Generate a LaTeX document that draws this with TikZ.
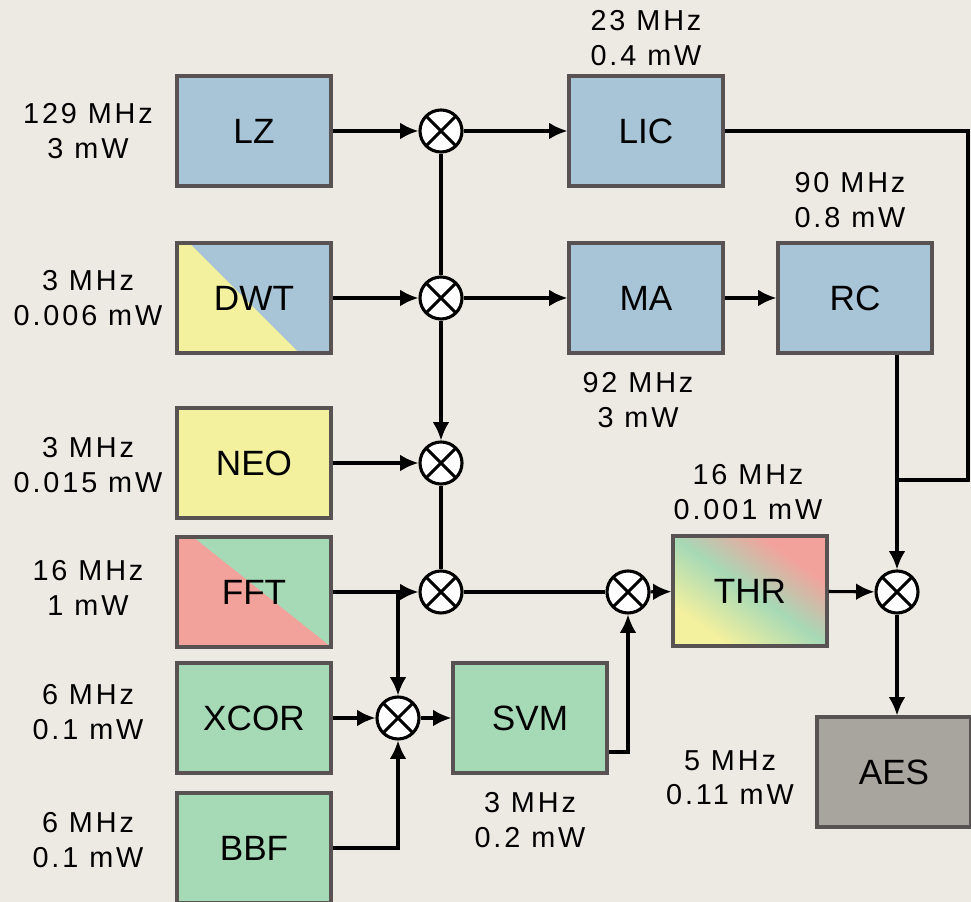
\documentclass[tikz,border=0pt]{standalone}
\usepackage{fontspec}
\setmainfont{Liberation Sans}
\newfontfamily\lblfont[LetterSpace=10]{Liberation Sans}
\usepackage{tikz}
\usetikzlibrary{arrows.meta,positioning,calc}
\definecolor{BgBeige}{RGB}{237,234,227}
\definecolor{BoxBlue}{RGB}{168,197,215}
\definecolor{BoxYellow}{RGB}{243,240,158}
\definecolor{BoxGreen}{RGB}{166,217,182}
\definecolor{BoxPink}{RGB}{243,162,155}
\definecolor{BoxGray}{RGB}{168,164,158}
\definecolor{EdgeGray}{RGB}{88,82,82}
\pgfdeclarehorizontalshading{thrshade}{100bp}{color(0bp)=(BoxYellow); color(28bp)=(BoxYellow); color(50bp)=(BoxGreen); color(70bp)=(BoxPink); color(100bp)=(BoxPink)}

\begin{document}
\begin{tikzpicture}[
 blk/.style={draw=EdgeGray, line width=2.2pt, minimum width=3.85cm, minimum height=2.75cm, font=\fontsize{25}{28}\selectfont},
 mult/.style={circle, draw, line width=2.2pt, fill=white, minimum size=1.05cm, inner sep=0pt,
   path picture={\draw[line width=2.2pt] (path picture bounding box.north west) -- (path picture bounding box.south east)
     (path picture bounding box.north east) -- (path picture bounding box.south west);}},
 lbl/.style={align=center, font=\lblfont\fontsize{20.5}{24.5}\selectfont},
 arr/.style={-{Latex[length=4.6mm, width=4.2mm]}, line width=2.2pt},
 ln/.style={line width=2.2pt}
]
\fill[BgBeige] (0,0) rectangle (24.275,22.55);
\useasboundingbox (0,0) rectangle (24.275,22.55);

% blocks
\node[blk, fill=BoxBlue] (lz) at (6.35,19.275) {LZ};
\node[blk, fill=BoxBlue] (lic) at (16.15,19.275) {LIC};
\node[blk, path picture={
   \fill[BoxBlue] (path picture bounding box.north west) rectangle (path picture bounding box.south east);
   \fill[BoxYellow] ($(path picture bounding box.north west)+(0.3,0)$) -- ($(path picture bounding box.south east)+(-0.8,0)$)
     -- (path picture bounding box.south west) -- (path picture bounding box.north west) -- cycle;}] (dwt) at (6.35,15.1) {DWT};
\node[blk, fill=BoxBlue] (ma) at (16.15,15.1) {MA};
\node[blk, fill=BoxBlue] (rc) at (21.375,15.1) {RC};
\node[blk, fill=BoxYellow] (neo) at (6.35,10.975) {NEO};
\node[blk, path picture={
   \fill[BoxGreen] (path picture bounding box.north west) rectangle (path picture bounding box.south east);
   \fill[BoxPink] ($(path picture bounding box.north west)+(0.4,0)$) -- (path picture bounding box.south east)
     -- (path picture bounding box.south west) -- (path picture bounding box.north west) -- cycle;}] (fft) at (6.35,7.75) {FFT};
\node[blk, shading=thrshade, shading angle=55] (thr) at (18.75,7.775) {THR};
\node[blk, fill=BoxGreen] (xcor) at (6.35,4.6) {XCOR};
\node[blk, fill=BoxGreen] (svm) at (13.25,4.6) {SVM};
\node[blk, fill=BoxGreen] (bbf) at (6.35,1.35) {BBF};
\node[blk, fill=BoxGray] (aes) at (22.35,3.25) {AES};

% multipliers
\node[mult] (m1) at (11.025,19.275) {};
\node[mult] (m2) at (11.025,15.1) {};
\node[mult] (m3) at (11.025,10.975) {};
\node[mult] (m4) at (11.025,7.75) {};
\node[mult] (m5) at (15.7,7.75) {};
\node[mult] (m6) at (9.95,4.6) {};
\node[mult] (m7) at (22.425,7.75) {};

% junctions
\coordinate (licturn) at (24.2,19.275);
\coordinate (lichit) at (24.2,10.55);
\coordinate (fftsplit) at (9.95,7.75);
\coordinate (svmout) at (15.7,3.75);

% labels
\node[lbl] (lzl) at (2.2,19.275) {129 MHz\\3 mW};
\node[lbl] (dwtl) at (2.2,15.1) {3 MHz\\0.006 mW};
\node[lbl] (neol) at (2.2,10.925) {3 MHz\\0.015 mW};
\node[lbl] (fftl) at (2.2,7.85) {16 MHz\\1 mW};
\node[lbl] (xcorl) at (2.2,4.75) {6 MHz\\0.1 mW};
\node[lbl] (bbfl) at (2.2,1.55) {6 MHz\\0.1 mW};
\node[lbl] (licl) at (16.15,21.6) {23 MHz\\0.4 mW};
\node[lbl] (rcl) at (21.25,17.55) {90 MHz\\0.8 mW};
\node[lbl] (mal) at (15.95,12.55) {92 MHz\\3 mW};
\node[lbl] (thrl) at (18.7,10.25) {16 MHz\\0.001 mW};
\node[lbl] (svml) at (13.25,2.05) {3 MHz\\0.2 mW};
\node[lbl] (aesl) at (18.25,3.1) {5 MHz\\0.11 mW};

% connectors
\draw[arr] (lz) -- (m1);
\draw[arr] (m1) -- (lic);
\draw[ln] (m1) -- (m2);
\draw[arr] (dwt) -- (m2);
\draw[arr] (m2) -- (ma);
\draw[arr] (ma) -- (rc);
\draw[arr] (m2) -- (m3);
\draw[arr] (neo) -- (m3);
\draw[ln] (m3) -- (m4);
\draw[arr] (fft) -- (m4);
\draw[ln] (m4) -- (m5);
\draw[arr] (m5) -- (thr);
\draw[arr] (fftsplit) -- (m6);
\draw[arr] (xcor) -- (m6);
\draw[arr] (bbf.east) -| (m6);
\draw[arr] (m6) -- (svm);
\draw[arr] (svm.east |- svmout) -- (svmout) -- (m5);
\draw[arr] (thr) -- (m7);
\draw[arr] (rc.south -| m7) -- (m7);
\draw[ln] (lic.east) -- (licturn) -- (lichit) -- (lichit -| m7);
\draw[arr] (m7) -- (m7 |- aes.north);
\end{tikzpicture}
\end{document}
